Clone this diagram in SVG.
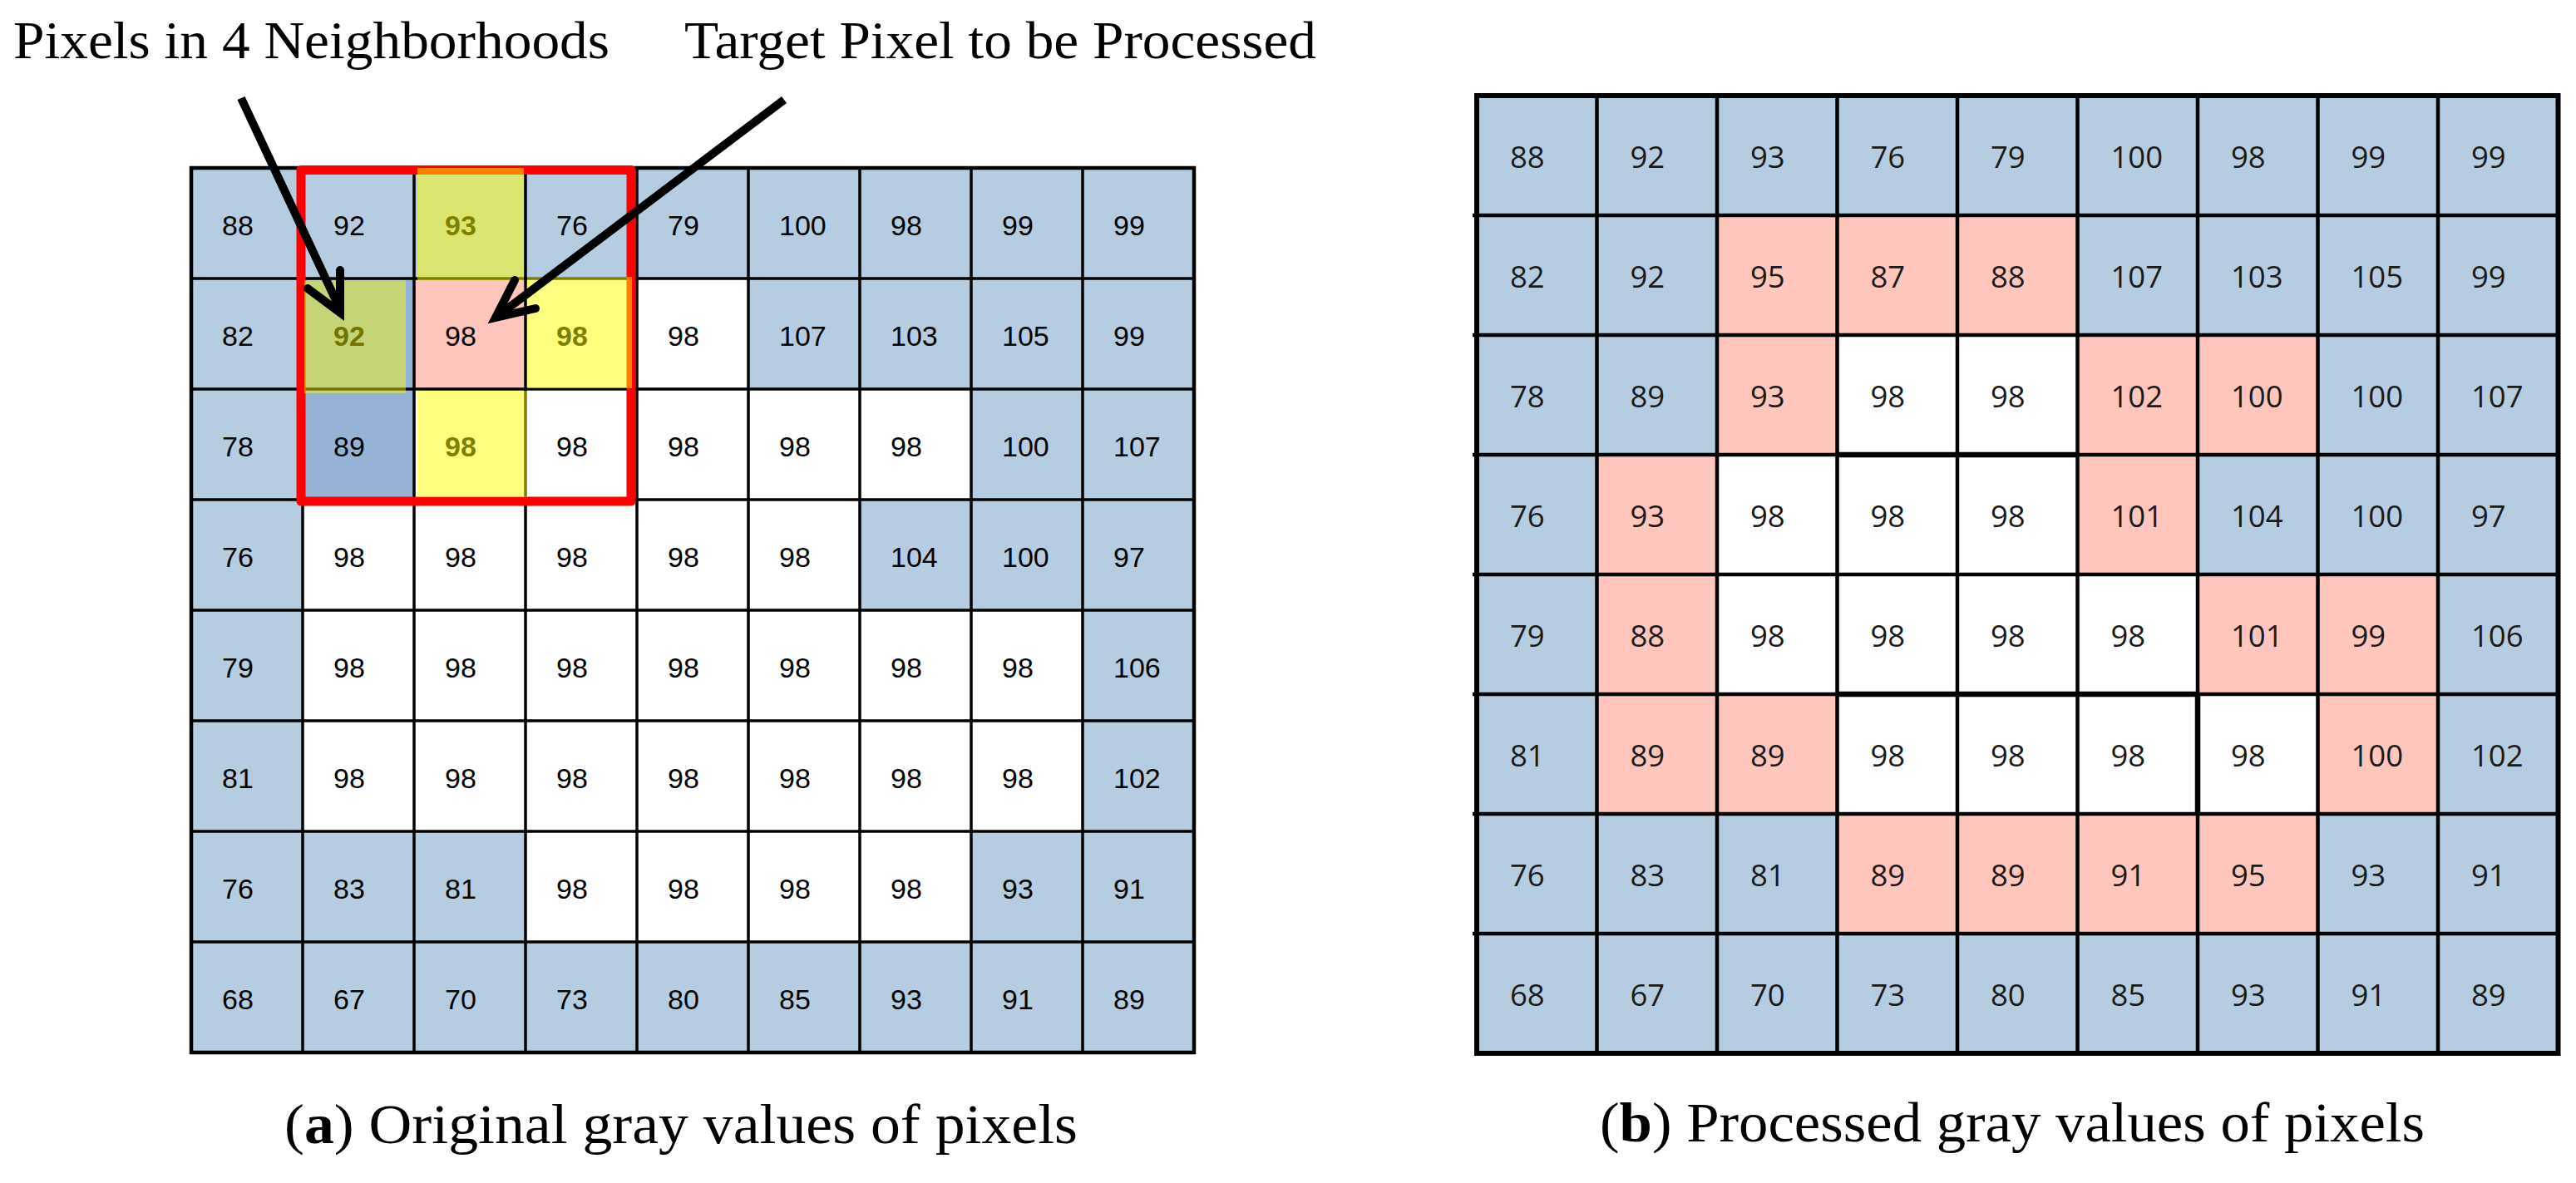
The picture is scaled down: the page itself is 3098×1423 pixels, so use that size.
<svg xmlns="http://www.w3.org/2000/svg" width="3098" height="1423" viewBox="0 0 3098 1423">
<style>
.b{fill:#B5CCE1}.p{fill:#FFC6BE}.w{fill:#FFFFFF}.d{fill:#95B3D7}
.lt{font-family:"Liberation Sans",Arial,sans-serif;font-size:34px;fill:#000}
.rt{font-family:"Open Sans","DejaVu Sans",sans-serif;font-size:36.5px;fill:#1a1a1a}
.hl{font-weight:bold}
.lbl{font-family:"Liberation Serif","Times New Roman",serif;font-size:64px;fill:#000}
.cap{font-family:"Liberation Serif","Times New Roman",serif;font-size:68px;fill:#000}
.ov{fill:#FFFF00;fill-opacity:0.5}
.arr{fill:none;stroke:#000;stroke-width:10}
.gl{stroke:#000;stroke-width:3.5}
.gr{stroke:#000;stroke-width:4.5}
</style>
<rect width="3098" height="1423" fill="#fff"/>

<!-- Left grid: original values -->
<g id="gridA">
<g id="a-r0c0"><rect class="b" x="230" y="202" width="134" height="133"/><text class="lt" x="267" y="283">88</text></g>
<g id="a-r0c1"><rect class="b" x="364" y="202" width="134" height="133"/><text class="lt" x="401" y="283">92</text></g>
<g id="a-r0c2"><rect class="b" x="498" y="202" width="134" height="133"/><text class="lt hl" x="535" y="283">93</text></g>
<g id="a-r0c3"><rect class="b" x="632" y="202" width="134" height="133"/><text class="lt" x="669" y="283">76</text></g>
<g id="a-r0c4"><rect class="b" x="766" y="202" width="134" height="133"/><text class="lt" x="803" y="283">79</text></g>
<g id="a-r0c5"><rect class="b" x="900" y="202" width="134" height="133"/><text class="lt" x="937" y="283">100</text></g>
<g id="a-r0c6"><rect class="b" x="1034" y="202" width="134" height="133"/><text class="lt" x="1071" y="283">98</text></g>
<g id="a-r0c7"><rect class="b" x="1168" y="202" width="134" height="133"/><text class="lt" x="1205" y="283">99</text></g>
<g id="a-r0c8"><rect class="b" x="1302" y="202" width="134" height="133"/><text class="lt" x="1339" y="283">99</text></g>

<g id="a-r1c0"><rect class="b" x="230" y="335" width="134" height="133"/><text class="lt" x="267" y="416">82</text></g>
<g id="a-r1c1"><rect class="d" x="364" y="335" width="134" height="133"/><text class="lt hl" x="401" y="416">92</text></g>
<g id="a-r1c2"><rect class="p" x="498" y="335" width="134" height="133"/><text class="lt" x="535" y="416">98</text></g>
<g id="a-r1c3"><rect class="w" x="632" y="335" width="134" height="133"/><text class="lt hl" x="669" y="416">98</text></g>
<g id="a-r1c4"><rect class="w" x="766" y="335" width="134" height="133"/><text class="lt" x="803" y="416">98</text></g>
<g id="a-r1c5"><rect class="b" x="900" y="335" width="134" height="133"/><text class="lt" x="937" y="416">107</text></g>
<g id="a-r1c6"><rect class="b" x="1034" y="335" width="134" height="133"/><text class="lt" x="1071" y="416">103</text></g>
<g id="a-r1c7"><rect class="b" x="1168" y="335" width="134" height="133"/><text class="lt" x="1205" y="416">105</text></g>
<g id="a-r1c8"><rect class="b" x="1302" y="335" width="134" height="133"/><text class="lt" x="1339" y="416">99</text></g>

<g id="a-r2c0"><rect class="b" x="230" y="468" width="134" height="133"/><text class="lt" x="267" y="549">78</text></g>
<g id="a-r2c1"><rect class="d" x="364" y="468" width="134" height="133"/><text class="lt" x="401" y="549">89</text></g>
<g id="a-r2c2"><rect class="w" x="498" y="468" width="134" height="133"/><text class="lt hl" x="535" y="549">98</text></g>
<g id="a-r2c3"><rect class="w" x="632" y="468" width="134" height="133"/><text class="lt" x="669" y="549">98</text></g>
<g id="a-r2c4"><rect class="w" x="766" y="468" width="134" height="133"/><text class="lt" x="803" y="549">98</text></g>
<g id="a-r2c5"><rect class="w" x="900" y="468" width="134" height="133"/><text class="lt" x="937" y="549">98</text></g>
<g id="a-r2c6"><rect class="w" x="1034" y="468" width="134" height="133"/><text class="lt" x="1071" y="549">98</text></g>
<g id="a-r2c7"><rect class="b" x="1168" y="468" width="134" height="133"/><text class="lt" x="1205" y="549">100</text></g>
<g id="a-r2c8"><rect class="b" x="1302" y="468" width="134" height="133"/><text class="lt" x="1339" y="549">107</text></g>

<g id="a-r3c0"><rect class="b" x="230" y="601" width="134" height="133"/><text class="lt" x="267" y="682">76</text></g>
<g id="a-r3c1"><rect class="w" x="364" y="601" width="134" height="133"/><text class="lt" x="401" y="682">98</text></g>
<g id="a-r3c2"><rect class="w" x="498" y="601" width="134" height="133"/><text class="lt" x="535" y="682">98</text></g>
<g id="a-r3c3"><rect class="w" x="632" y="601" width="134" height="133"/><text class="lt" x="669" y="682">98</text></g>
<g id="a-r3c4"><rect class="w" x="766" y="601" width="134" height="133"/><text class="lt" x="803" y="682">98</text></g>
<g id="a-r3c5"><rect class="w" x="900" y="601" width="134" height="133"/><text class="lt" x="937" y="682">98</text></g>
<g id="a-r3c6"><rect class="b" x="1034" y="601" width="134" height="133"/><text class="lt" x="1071" y="682">104</text></g>
<g id="a-r3c7"><rect class="b" x="1168" y="601" width="134" height="133"/><text class="lt" x="1205" y="682">100</text></g>
<g id="a-r3c8"><rect class="b" x="1302" y="601" width="134" height="133"/><text class="lt" x="1339" y="682">97</text></g>

<g id="a-r4c0"><rect class="b" x="230" y="734" width="134" height="133"/><text class="lt" x="267" y="815">79</text></g>
<g id="a-r4c1"><rect class="w" x="364" y="734" width="134" height="133"/><text class="lt" x="401" y="815">98</text></g>
<g id="a-r4c2"><rect class="w" x="498" y="734" width="134" height="133"/><text class="lt" x="535" y="815">98</text></g>
<g id="a-r4c3"><rect class="w" x="632" y="734" width="134" height="133"/><text class="lt" x="669" y="815">98</text></g>
<g id="a-r4c4"><rect class="w" x="766" y="734" width="134" height="133"/><text class="lt" x="803" y="815">98</text></g>
<g id="a-r4c5"><rect class="w" x="900" y="734" width="134" height="133"/><text class="lt" x="937" y="815">98</text></g>
<g id="a-r4c6"><rect class="w" x="1034" y="734" width="134" height="133"/><text class="lt" x="1071" y="815">98</text></g>
<g id="a-r4c7"><rect class="w" x="1168" y="734" width="134" height="133"/><text class="lt" x="1205" y="815">98</text></g>
<g id="a-r4c8"><rect class="b" x="1302" y="734" width="134" height="133"/><text class="lt" x="1339" y="815">106</text></g>

<g id="a-r5c0"><rect class="b" x="230" y="867" width="134" height="133"/><text class="lt" x="267" y="948">81</text></g>
<g id="a-r5c1"><rect class="w" x="364" y="867" width="134" height="133"/><text class="lt" x="401" y="948">98</text></g>
<g id="a-r5c2"><rect class="w" x="498" y="867" width="134" height="133"/><text class="lt" x="535" y="948">98</text></g>
<g id="a-r5c3"><rect class="w" x="632" y="867" width="134" height="133"/><text class="lt" x="669" y="948">98</text></g>
<g id="a-r5c4"><rect class="w" x="766" y="867" width="134" height="133"/><text class="lt" x="803" y="948">98</text></g>
<g id="a-r5c5"><rect class="w" x="900" y="867" width="134" height="133"/><text class="lt" x="937" y="948">98</text></g>
<g id="a-r5c6"><rect class="w" x="1034" y="867" width="134" height="133"/><text class="lt" x="1071" y="948">98</text></g>
<g id="a-r5c7"><rect class="w" x="1168" y="867" width="134" height="133"/><text class="lt" x="1205" y="948">98</text></g>
<g id="a-r5c8"><rect class="b" x="1302" y="867" width="134" height="133"/><text class="lt" x="1339" y="948">102</text></g>

<g id="a-r6c0"><rect class="b" x="230" y="1000" width="134" height="133"/><text class="lt" x="267" y="1081">76</text></g>
<g id="a-r6c1"><rect class="b" x="364" y="1000" width="134" height="133"/><text class="lt" x="401" y="1081">83</text></g>
<g id="a-r6c2"><rect class="b" x="498" y="1000" width="134" height="133"/><text class="lt" x="535" y="1081">81</text></g>
<g id="a-r6c3"><rect class="w" x="632" y="1000" width="134" height="133"/><text class="lt" x="669" y="1081">98</text></g>
<g id="a-r6c4"><rect class="w" x="766" y="1000" width="134" height="133"/><text class="lt" x="803" y="1081">98</text></g>
<g id="a-r6c5"><rect class="w" x="900" y="1000" width="134" height="133"/><text class="lt" x="937" y="1081">98</text></g>
<g id="a-r6c6"><rect class="w" x="1034" y="1000" width="134" height="133"/><text class="lt" x="1071" y="1081">98</text></g>
<g id="a-r6c7"><rect class="b" x="1168" y="1000" width="134" height="133"/><text class="lt" x="1205" y="1081">93</text></g>
<g id="a-r6c8"><rect class="b" x="1302" y="1000" width="134" height="133"/><text class="lt" x="1339" y="1081">91</text></g>

<g id="a-r7c0"><rect class="b" x="230" y="1133" width="134" height="133"/><text class="lt" x="267" y="1214">68</text></g>
<g id="a-r7c1"><rect class="b" x="364" y="1133" width="134" height="133"/><text class="lt" x="401" y="1214">67</text></g>
<g id="a-r7c2"><rect class="b" x="498" y="1133" width="134" height="133"/><text class="lt" x="535" y="1214">70</text></g>
<g id="a-r7c3"><rect class="b" x="632" y="1133" width="134" height="133"/><text class="lt" x="669" y="1214">73</text></g>
<g id="a-r7c4"><rect class="b" x="766" y="1133" width="134" height="133"/><text class="lt" x="803" y="1214">80</text></g>
<g id="a-r7c5"><rect class="b" x="900" y="1133" width="134" height="133"/><text class="lt" x="937" y="1214">85</text></g>
<g id="a-r7c6"><rect class="b" x="1034" y="1133" width="134" height="133"/><text class="lt" x="1071" y="1214">93</text></g>
<g id="a-r7c7"><rect class="b" x="1168" y="1133" width="134" height="133"/><text class="lt" x="1205" y="1214">91</text></g>
<g id="a-r7c8"><rect class="b" x="1302" y="1133" width="134" height="133"/><text class="lt" x="1339" y="1214">89</text></g>
</g>

<g id="gridA-lines" class="gl">
<path d="M364,202V1266M498,202V1266M632,202V1266M766,202V1266M900,202V1266M1034,202V1266M1168,202V1266M1302,202V1266"/>
<path d="M230,335H1436M230,468H1436M230,601H1436M230,734H1436M230,867H1436M230,1000H1436M230,1133H1436"/>
<rect x="230" y="202" width="1206" height="1064" fill="none" stroke-width="4.5"/>
</g>

<g id="neighborhood">
<rect x="362" y="204.5" width="397" height="398.5" fill="none" stroke="#FF0000" stroke-width="11" stroke-linejoin="round"/>
<rect class="ov" x="502" y="202" width="128" height="135"/>
<rect class="ov" x="366" y="337" width="122" height="136" style="fill-opacity:0.45"/>
<rect class="ov" x="634" y="333" width="126" height="134"/>
<rect class="ov" x="502" y="470" width="132" height="128"/>
</g>

<!-- Right grid: processed values -->
<g id="gridB">
<g id="b-r0c0"><rect class="b" x="1776" y="115" width="144.5" height="144"/><text class="rt" x="1816" y="202">88</text></g>
<g id="b-r0c1"><rect class="b" x="1920.5" y="115" width="144.5" height="144"/><text class="rt" x="1960.5" y="202">92</text></g>
<g id="b-r0c2"><rect class="b" x="2065" y="115" width="144.5" height="144"/><text class="rt" x="2105" y="202">93</text></g>
<g id="b-r0c3"><rect class="b" x="2209.5" y="115" width="144.5" height="144"/><text class="rt" x="2249.5" y="202">76</text></g>
<g id="b-r0c4"><rect class="b" x="2354" y="115" width="144.5" height="144"/><text class="rt" x="2394" y="202">79</text></g>
<g id="b-r0c5"><rect class="b" x="2498.5" y="115" width="144.5" height="144"/><text class="rt" x="2538.5" y="202">100</text></g>
<g id="b-r0c6"><rect class="b" x="2643" y="115" width="144.5" height="144"/><text class="rt" x="2683" y="202">98</text></g>
<g id="b-r0c7"><rect class="b" x="2787.5" y="115" width="144.5" height="144"/><text class="rt" x="2827.5" y="202">99</text></g>
<g id="b-r0c8"><rect class="b" x="2932" y="115" width="144.5" height="144"/><text class="rt" x="2972" y="202">99</text></g>

<g id="b-r1c0"><rect class="b" x="1776" y="259" width="144.5" height="144"/><text class="rt" x="1816" y="346">82</text></g>
<g id="b-r1c1"><rect class="b" x="1920.5" y="259" width="144.5" height="144"/><text class="rt" x="1960.5" y="346">92</text></g>
<g id="b-r1c2"><rect class="p" x="2065" y="259" width="144.5" height="144"/><text class="rt" x="2105" y="346">95</text></g>
<g id="b-r1c3"><rect class="p" x="2209.5" y="259" width="144.5" height="144"/><text class="rt" x="2249.5" y="346">87</text></g>
<g id="b-r1c4"><rect class="p" x="2354" y="259" width="144.5" height="144"/><text class="rt" x="2394" y="346">88</text></g>
<g id="b-r1c5"><rect class="b" x="2498.5" y="259" width="144.5" height="144"/><text class="rt" x="2538.5" y="346">107</text></g>
<g id="b-r1c6"><rect class="b" x="2643" y="259" width="144.5" height="144"/><text class="rt" x="2683" y="346">103</text></g>
<g id="b-r1c7"><rect class="b" x="2787.5" y="259" width="144.5" height="144"/><text class="rt" x="2827.5" y="346">105</text></g>
<g id="b-r1c8"><rect class="b" x="2932" y="259" width="144.5" height="144"/><text class="rt" x="2972" y="346">99</text></g>

<g id="b-r2c0"><rect class="b" x="1776" y="403" width="144.5" height="144"/><text class="rt" x="1816" y="490">78</text></g>
<g id="b-r2c1"><rect class="b" x="1920.5" y="403" width="144.5" height="144"/><text class="rt" x="1960.5" y="490">89</text></g>
<g id="b-r2c2"><rect class="p" x="2065" y="403" width="144.5" height="144"/><text class="rt" x="2105" y="490">93</text></g>
<g id="b-r2c3"><rect class="w" x="2209.5" y="403" width="144.5" height="144"/><text class="rt" x="2249.5" y="490">98</text></g>
<g id="b-r2c4"><rect class="w" x="2354" y="403" width="144.5" height="144"/><text class="rt" x="2394" y="490">98</text></g>
<g id="b-r2c5"><rect class="p" x="2498.5" y="403" width="144.5" height="144"/><text class="rt" x="2538.5" y="490">102</text></g>
<g id="b-r2c6"><rect class="p" x="2643" y="403" width="144.5" height="144"/><text class="rt" x="2683" y="490">100</text></g>
<g id="b-r2c7"><rect class="b" x="2787.5" y="403" width="144.5" height="144"/><text class="rt" x="2827.5" y="490">100</text></g>
<g id="b-r2c8"><rect class="b" x="2932" y="403" width="144.5" height="144"/><text class="rt" x="2972" y="490">107</text></g>

<g id="b-r3c0"><rect class="b" x="1776" y="547" width="144.5" height="144"/><text class="rt" x="1816" y="634">76</text></g>
<g id="b-r3c1"><rect class="p" x="1920.5" y="547" width="144.5" height="144"/><text class="rt" x="1960.5" y="634">93</text></g>
<g id="b-r3c2"><rect class="w" x="2065" y="547" width="144.5" height="144"/><text class="rt" x="2105" y="634">98</text></g>
<g id="b-r3c3"><rect class="w" x="2209.5" y="547" width="144.5" height="144"/><text class="rt" x="2249.5" y="634">98</text></g>
<g id="b-r3c4"><rect class="w" x="2354" y="547" width="144.5" height="144"/><text class="rt" x="2394" y="634">98</text></g>
<g id="b-r3c5"><rect class="p" x="2498.5" y="547" width="144.5" height="144"/><text class="rt" x="2538.5" y="634">101</text></g>
<g id="b-r3c6"><rect class="b" x="2643" y="547" width="144.5" height="144"/><text class="rt" x="2683" y="634">104</text></g>
<g id="b-r3c7"><rect class="b" x="2787.5" y="547" width="144.5" height="144"/><text class="rt" x="2827.5" y="634">100</text></g>
<g id="b-r3c8"><rect class="b" x="2932" y="547" width="144.5" height="144"/><text class="rt" x="2972" y="634">97</text></g>

<g id="b-r4c0"><rect class="b" x="1776" y="691" width="144.5" height="144"/><text class="rt" x="1816" y="778">79</text></g>
<g id="b-r4c1"><rect class="p" x="1920.5" y="691" width="144.5" height="144"/><text class="rt" x="1960.5" y="778">88</text></g>
<g id="b-r4c2"><rect class="w" x="2065" y="691" width="144.5" height="144"/><text class="rt" x="2105" y="778">98</text></g>
<g id="b-r4c3"><rect class="w" x="2209.5" y="691" width="144.5" height="144"/><text class="rt" x="2249.5" y="778">98</text></g>
<g id="b-r4c4"><rect class="w" x="2354" y="691" width="144.5" height="144"/><text class="rt" x="2394" y="778">98</text></g>
<g id="b-r4c5"><rect class="w" x="2498.5" y="691" width="144.5" height="144"/><text class="rt" x="2538.5" y="778">98</text></g>
<g id="b-r4c6"><rect class="p" x="2643" y="691" width="144.5" height="144"/><text class="rt" x="2683" y="778">101</text></g>
<g id="b-r4c7"><rect class="p" x="2787.5" y="691" width="144.5" height="144"/><text class="rt" x="2827.5" y="778">99</text></g>
<g id="b-r4c8"><rect class="b" x="2932" y="691" width="144.5" height="144"/><text class="rt" x="2972" y="778">106</text></g>

<g id="b-r5c0"><rect class="b" x="1776" y="835" width="144.5" height="144"/><text class="rt" x="1816" y="922">81</text></g>
<g id="b-r5c1"><rect class="p" x="1920.5" y="835" width="144.5" height="144"/><text class="rt" x="1960.5" y="922">89</text></g>
<g id="b-r5c2"><rect class="p" x="2065" y="835" width="144.5" height="144"/><text class="rt" x="2105" y="922">89</text></g>
<g id="b-r5c3"><rect class="w" x="2209.5" y="835" width="144.5" height="144"/><text class="rt" x="2249.5" y="922">98</text></g>
<g id="b-r5c4"><rect class="w" x="2354" y="835" width="144.5" height="144"/><text class="rt" x="2394" y="922">98</text></g>
<g id="b-r5c5"><rect class="w" x="2498.5" y="835" width="144.5" height="144"/><text class="rt" x="2538.5" y="922">98</text></g>
<g id="b-r5c6"><rect class="w" x="2643" y="835" width="144.5" height="144"/><text class="rt" x="2683" y="922">98</text></g>
<g id="b-r5c7"><rect class="p" x="2787.5" y="835" width="144.5" height="144"/><text class="rt" x="2827.5" y="922">100</text></g>
<g id="b-r5c8"><rect class="b" x="2932" y="835" width="144.5" height="144"/><text class="rt" x="2972" y="922">102</text></g>

<g id="b-r6c0"><rect class="b" x="1776" y="979" width="144.5" height="144"/><text class="rt" x="1816" y="1066">76</text></g>
<g id="b-r6c1"><rect class="b" x="1920.5" y="979" width="144.5" height="144"/><text class="rt" x="1960.5" y="1066">83</text></g>
<g id="b-r6c2"><rect class="b" x="2065" y="979" width="144.5" height="144"/><text class="rt" x="2105" y="1066">81</text></g>
<g id="b-r6c3"><rect class="p" x="2209.5" y="979" width="144.5" height="144"/><text class="rt" x="2249.5" y="1066">89</text></g>
<g id="b-r6c4"><rect class="p" x="2354" y="979" width="144.5" height="144"/><text class="rt" x="2394" y="1066">89</text></g>
<g id="b-r6c5"><rect class="p" x="2498.5" y="979" width="144.5" height="144"/><text class="rt" x="2538.5" y="1066">91</text></g>
<g id="b-r6c6"><rect class="p" x="2643" y="979" width="144.5" height="144"/><text class="rt" x="2683" y="1066">95</text></g>
<g id="b-r6c7"><rect class="b" x="2787.5" y="979" width="144.5" height="144"/><text class="rt" x="2827.5" y="1066">93</text></g>
<g id="b-r6c8"><rect class="b" x="2932" y="979" width="144.5" height="144"/><text class="rt" x="2972" y="1066">91</text></g>

<g id="b-r7c0"><rect class="b" x="1776" y="1123" width="144.5" height="144"/><text class="rt" x="1816" y="1210">68</text></g>
<g id="b-r7c1"><rect class="b" x="1920.5" y="1123" width="144.5" height="144"/><text class="rt" x="1960.5" y="1210">67</text></g>
<g id="b-r7c2"><rect class="b" x="2065" y="1123" width="144.5" height="144"/><text class="rt" x="2105" y="1210">70</text></g>
<g id="b-r7c3"><rect class="b" x="2209.5" y="1123" width="144.5" height="144"/><text class="rt" x="2249.5" y="1210">73</text></g>
<g id="b-r7c4"><rect class="b" x="2354" y="1123" width="144.5" height="144"/><text class="rt" x="2394" y="1210">80</text></g>
<g id="b-r7c5"><rect class="b" x="2498.5" y="1123" width="144.5" height="144"/><text class="rt" x="2538.5" y="1210">85</text></g>
<g id="b-r7c6"><rect class="b" x="2643" y="1123" width="144.5" height="144"/><text class="rt" x="2683" y="1210">93</text></g>
<g id="b-r7c7"><rect class="b" x="2787.5" y="1123" width="144.5" height="144"/><text class="rt" x="2827.5" y="1210">91</text></g>
<g id="b-r7c8"><rect class="b" x="2932" y="1123" width="144.5" height="144"/><text class="rt" x="2972" y="1210">89</text></g>
</g>

<g id="gridB-lines" class="gr">
<path d="M1920.5,115V1267M2065,115V1267M2209.5,115V1267M2354,115V1267M2498.5,115V1267M2643,115V1267M2787.5,115V1267M2932,115V1267"/>
<path d="M1771,259H3076.5M1771,403H3076.5M1771,547H3076.5M1771,691H3076.5M1771,835H3076.5M1771,979H3076.5M1771,1123H3076.5"/>
<path d="M2209.5,547H2498.5M2209.5,835H2643M2643,835V979" stroke-width="6.5"/>
<rect x="1776" y="115" width="1300.5" height="1152" fill="none" stroke-width="6"/>
</g>

<g id="connectors">
<path class="arr" d="M290,118 L408,370"/>
<path class="arr" d="M370,347 L409,376 L409,325" stroke-linejoin="miter" stroke-linecap="round"/>
<path class="arr" d="M943,120 L600,379"/>
<path class="arr" d="M619,337 L596,382 L644,371" stroke-linejoin="miter" stroke-linecap="round"/>
</g>

<g id="labels">
<text class="lbl" x="16" y="70" textLength="717" lengthAdjust="spacingAndGlyphs">Pixels in 4 Neighborhoods</text>
<text class="lbl" x="823" y="70" textLength="760" lengthAdjust="spacingAndGlyphs">Target Pixel to be Processed</text>
<text class="cap" x="342" y="1375" textLength="954" lengthAdjust="spacingAndGlyphs">(<tspan font-weight="bold">a</tspan>) Original gray values of pixels</text>
<text class="cap" x="1924" y="1373" textLength="992" lengthAdjust="spacingAndGlyphs">(<tspan font-weight="bold">b</tspan>) Processed gray values of pixels</text>
</g>
</svg>
